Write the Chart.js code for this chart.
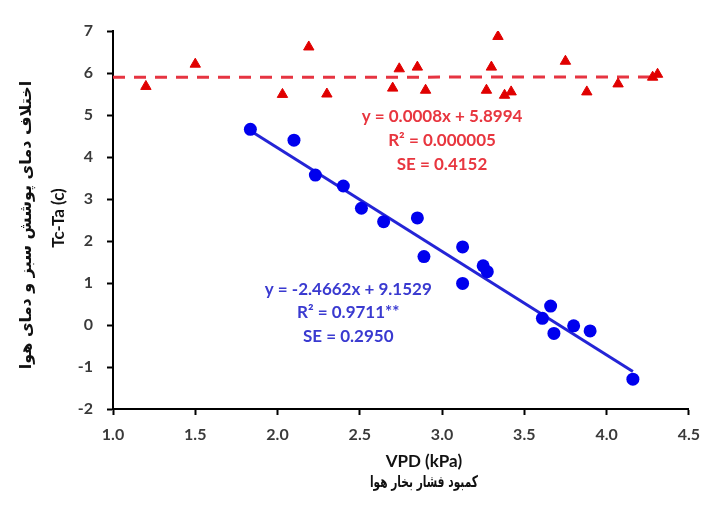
<!DOCTYPE html>
<html>
<head>
<meta charset="utf-8">
<script src="https://cdn.jsdelivr.net/npm/chart.js@4.4.1/dist/chart.umd.min.js"></script>
<style>
  html, body { margin: 0; padding: 0; background: #fff; }
  #wrap { width: 710px; height: 511px; }
</style>
</head>
<body>
<div id="wrap"><canvas id="chart"></canvas></div>
<script>
// VPD (kPa) vs Tc-Ta, two groups
const redVpd  = [1.20, 1.50, 2.03, 2.19, 2.30, 2.70, 2.74, 2.85, 2.90, 3.27, 3.30, 3.34, 3.38, 3.42, 3.75, 3.88, 4.07, 4.28, 4.31];
const redDiff = [5.68, 6.21, 5.49, 6.62, 5.50, 5.64, 6.10, 6.14, 5.59, 5.59, 6.14, 6.87, 5.47, 5.55, 6.28, 5.55, 5.74, 5.90, 5.97];

const blueVpd  = [1.835, 2.10, 2.23, 2.40, 2.51, 2.645, 2.85, 2.89, 3.125, 3.125, 3.25, 3.275, 3.61, 3.66, 3.68, 3.80, 3.90, 4.16];
const blueDiff = [4.66, 4.40, 3.57, 3.31, 2.78, 2.46, 2.55, 1.63, 1.86, 0.99, 1.41, 1.27, 0.16, 0.45, -0.20, -0.02, -0.14, -1.29];

// regression lines (slope, intercept) and x range they cover
const redFit  = { slope: 0.0008,  intercept: 5.8994, from: 1.0, to: 4.31 };
const blueFit = { slope: -2.4662, intercept: 9.1529, from: 1.835, to: 4.16 };

const redText  = ['y = 0.0008x + 5.8994', 'R\u00B2 = 0.000005', 'SE = 0.4152'];
const blueText = ['y = -2.4662x + 9.1529', 'R\u00B2 = 0.9711**', 'SE = 0.2950'];

const xTitle = ['VPD (kPa)', 'کمبود فشار بخار هوا'];
const yTitle = ['اختلاف دمای پوشش سبز و دمای هوا', 'Tc-Ta (c)'];

const xMin = 1.0, xMax = 4.5, xStep = 0.5;
const yMin = -2, yMax = 7, yStep = 1;

const RED = '#e00000', REDLINE = '#e63441', REDTXT = '#e8363f';
const BLUE = '#0000ee', BLUELINE = '#2424d6', BLUETXT = '#3a3ad0';

function pts(xs, ys) { return xs.map((v, i) => ({ x: v, y: ys[i] })); }
function fitLine(f) {
  return [f.from, f.to].map(v => ({ x: v, y: f.slope * v + f.intercept }));
}

// draw text squeezed (only if needed) to a given width
function fitText(ctx, t, x, y, w) {
  const m = ctx.measureText(t).width;
  const k = Math.min(1, w / m);
  ctx.save();
  ctx.translate(x, y);
  ctx.scale(k, 1);
  ctx.fillText(t, 0, 0);
  ctx.restore();
}

const labelsPlugin = {
  id: 'labels',
  afterDraw(chart) {
    const { ctx, chartArea: a, scales: { x, y } } = chart;
    ctx.save();
    ctx.textAlign = 'center';
    ctx.textBaseline = 'middle';

    // equations
    ctx.font = 'bold 17px Lato';
    ctx.fillStyle = REDTXT;
    let cx = x.getPixelForValue(3.0), cy = y.getPixelForValue(4.97);
    redText.forEach((t, i) => ctx.fillText(t, cx, cy + i * 24));
    ctx.fillStyle = BLUETXT;
    cx = x.getPixelForValue(2.43); cy = y.getPixelForValue(0.85);
    blueText.forEach((t, i) => ctx.fillText(t, cx, cy + i * 23.5));

    // x title
    ctx.fillStyle = '#111';
    const mx = (a.left + a.right) / 2 + 23;
    ctx.font = 'bold 17px Lato';
    ctx.fillText(xTitle[0], mx, a.bottom + 53);
    ctx.font = 'bold 16px "DejaVu Sans"';
    fitText(ctx, xTitle[1], mx, a.bottom + 74, 108);

    // y title
    ctx.translate(0, (a.top + a.bottom) / 2);
    ctx.rotate(-Math.PI / 2);
    ctx.font = 'bold 16px "DejaVu Sans"';
    fitText(ctx, yTitle[0], -5, 27, 296);
    ctx.font = 'bold 17px Lato';
    ctx.fillText(yTitle[1], 2, 59);
    ctx.restore();
  }
};

new Chart(document.getElementById('chart'), {
  type: 'scatter',
  data: {
    datasets: [
      {
        data: pts(redVpd, redDiff),
        pointStyle: 'triangle', pointRadius: 6, pointHoverRadius: 6,
        backgroundColor: RED, borderColor: RED, borderWidth: 1, order: 0
      },
      {
        data: pts(blueVpd, blueDiff),
        pointStyle: 'circle', pointRadius: 6.5, pointHoverRadius: 6.5,
        backgroundColor: BLUE, borderColor: BLUE, borderWidth: 0, order: 0
      },
      {
        data: fitLine(redFit), showLine: true, pointRadius: 0,
        borderColor: REDLINE, borderWidth: 3, borderDash: [12, 9], order: 1
      },
      {
        data: fitLine(blueFit), showLine: true, pointRadius: 0,
        borderColor: BLUELINE, borderWidth: 3, order: 1
      }
    ]
  },
  options: {
    responsive: true,
    maintainAspectRatio: false,
    animation: false,
    layout: { padding: { top: 31, right: 17, left: 0, bottom: 0 } },
    plugins: { legend: { display: false }, tooltip: { enabled: false } },
    scales: {
      x: {
        type: 'linear', min: xMin, max: xMax,
        ticks: {
          stepSize: xStep, padding: 10, color: '#3a3a3a',
          font: { family: 'Lato', size: 16, weight: 'bold' },
          callback: v => v.toFixed(1)
        },
        grid: { drawOnChartArea: false, drawTicks: true, tickLength: 6, tickColor: '#000', tickWidth: 2 },
        border: { display: true, color: '#000', width: 2 },
        afterFit: s => { s.height = 102; }
      },
      y: {
        type: 'linear', min: yMin, max: yMax,
        ticks: {
          stepSize: yStep, padding: 14, color: '#3a3a3a',
          font: { family: 'Lato', size: 16, weight: 'bold' }
        },
        grid: { drawOnChartArea: false, drawTicks: true, tickLength: 6, tickColor: '#000', tickWidth: 2 },
        border: { display: true, color: '#000', width: 2 },
        afterFit: s => { s.width = 113; }
      }
    }
  },
  plugins: [labelsPlugin]
});
</script>
</body>
</html>
